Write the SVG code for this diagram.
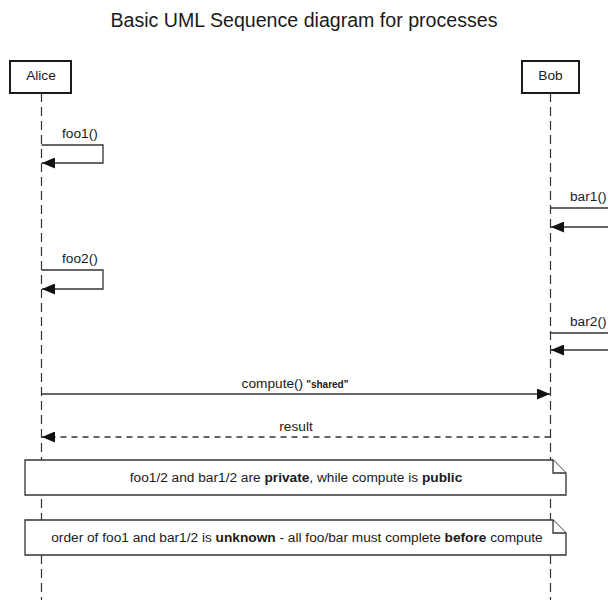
<svg xmlns="http://www.w3.org/2000/svg" width="608" height="600" viewBox="0 0 608 600">
  <style>
    text { font-family: "Liberation Sans", Arial, sans-serif; fill: #1a1a1a; }
    .title { font-size: 19.6px; }
    .lbl { font-size: 13.7px; }
    .small { font-size: 10px; }
    .actor { fill: #fff; stroke: #1a1a1a; stroke-width: 2; }
    .life { stroke: #333; stroke-width: 1.2; stroke-dasharray: 9 5; fill: none; }
    .msg { stroke: #333; stroke-width: 1.3; fill: none; }
    .ret { stroke: #333; stroke-width: 1.3; fill: none; stroke-dasharray: 6 5; }
    .note { fill: #fff; stroke: #333; stroke-width: 1.3; }
    .b { font-weight: bold; }
  </style>
  <defs>
    <marker id="head" viewBox="0 0 13 11" refX="13" refY="5.5" markerWidth="13" markerHeight="11" markerUnits="userSpaceOnUse" orient="auto">
      <path d="M0,0 L13,5.5 L0,11 Z" fill="#111"/>
    </marker>
  </defs>

  <rect width="608" height="600" fill="#fff"/>

  <text class="title" x="304" y="27" text-anchor="middle">Basic UML Sequence diagram for processes</text>

  <!-- lifelines -->
  <g id="lifelines">
    <line class="life" x1="41.5" y1="93" x2="41.5" y2="600"/>
    <line class="life" x1="550.5" y1="93" x2="550.5" y2="600"/>
  </g>

  <g id="alice">
    <rect class="actor" x="10" y="61" width="61" height="32"/>
    <text class="lbl" x="41" y="80" text-anchor="middle">Alice</text>
  </g>
  <g id="bob">
    <rect class="actor" x="522" y="61" width="57" height="32"/>
    <text class="lbl" x="550.5" y="80" text-anchor="middle">Bob</text>
  </g>

  <g id="connectors">
    <!-- foo1 self call -->
    <path class="msg" d="M41.5,145 H103 V163 H42" marker-end="url(#head)"/>
    <text class="lbl" x="62" y="138">foo1()</text>
    <!-- bar1 self call (loop runs past right edge) -->
    <path class="msg" d="M550.5,208 H620 V227 H551" marker-end="url(#head)"/>
    <text class="lbl" x="570" y="201">bar1()</text>
    <!-- foo2 self call -->
    <path class="msg" d="M41.5,270 H103 V289 H42" marker-end="url(#head)"/>
    <text class="lbl" x="62" y="263">foo2()</text>
    <!-- bar2 self call -->
    <path class="msg" d="M550.5,333 H620 V350 H551" marker-end="url(#head)"/>
    <text class="lbl" x="570" y="326">bar2()</text>
    <!-- compute -->
    <line class="msg" x1="41.5" y1="394" x2="550" y2="394" marker-end="url(#head)"/>
    <text x="295" y="388" text-anchor="middle"><tspan class="lbl">compute()</tspan><tspan class="small b" dx="3">"shared"</tspan></text>
    <!-- result -->
    <line class="ret" x1="550.5" y1="437" x2="42" y2="437" marker-end="url(#head)"/>
    <text class="lbl" x="296" y="431" text-anchor="middle">result</text>
  </g>

  <g id="note1">
    <path class="note" d="M25,460 H553 L566,473 V495 H25 Z"/>
    <path class="note" d="M553,460 V473 H566" fill="none"/>
    <text class="lbl" x="296" y="482" text-anchor="middle">foo1/2 and bar1/2 are <tspan class="b">private</tspan>, while compute is <tspan class="b">public</tspan></text>
  </g>
  <g id="note2">
    <path class="note" d="M25,520 H553 L566,533 V555 H25 Z"/>
    <path class="note" d="M553,520 V533 H566" fill="none"/>
    <text class="lbl" x="297" y="542" text-anchor="middle">order of foo1 and bar1/2 is <tspan class="b">unknown</tspan> - all foo/bar must complete <tspan class="b">before</tspan> compute</text>
  </g>
</svg>
